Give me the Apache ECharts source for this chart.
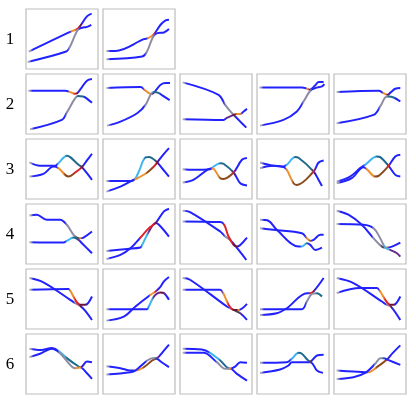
<!DOCTYPE html>
<html>
<head>
    <meta charset="UTF-8">
    <title>curves</title>
    <script src="https://cdn.jsdelivr.net/npm/echarts@6/dist/echarts.min.js"></script>
</head>
<body style="margin:0;background:#fff;">
<div id="main" style="width:416px;height:402px;"></div>
<script type="text/javascript">
    // row labels
    var rowLabels = ['1', '2', '3', '4', '5', '6'];

    // each curve: [x, y, state] ; state letter = colour class of the point
    var row1 = [
        [[[8,127,'g'],[128,70,'b'],[137,66,'o'],[152,60,'r'],[162,50,'d'],[182,22,'b'],[196,14,'b']],
         [[5,158,'g'],[120,127,'b'],[130,115,'s'],[155,62,'s'],[170,55,'b'],[180,54,'b'],[195,47,'b']]],
        [[[10,125,'g'],[37,125,'b'],[122,90,'b'],[135,87,'o'],[152,75,'r'],[172,47,'b'],[187,34,'b'],[197,32,'b']],
         [[10,150,'g'],[117,142,'b'],[130,130,'s'],[150,82,'s'],[162,72,'b'],[182,70,'b'],[197,60,'b']]]
    ];
    var row2 = [
        [[[7,50,'g'],[117,50,'b'],[130,53,'o'],[145,59,'r'],[152,58,'d'],[165,42,'b'],[182,20,'b'],[197,15,'b']],
         [[12,165,'g'],[107,137,'b'],[122,115,'s'],[145,75,'s'],[155,66,'t'],[170,67,'t'],[180,72,'b'],[197,86,'b']]],
        [[[10,42,'g'],[112,39,'b'],[125,48,'o'],[137,57,'o'],[146,60,'d'],[160,46,'b'],[172,32,'b'],[187,27,'b'],[200,27,'b']],
         [[12,154,'g'],[52,142,'b'],[102,117,'b'],[127,92,'s'],[142,62,'s'],[152,54,'t'],[167,57,'t'],[177,64,'b'],[199,78,'b']]],
        [[[8,25,'g'],[115,62,'b'],[135,92,'s'],[155,117,'s'],[162,124,'k'],[180,142,'b'],[198,160,'b']],
         [[8,135,'g'],[130,137,'b'],[140,131,'p'],[160,122,'d'],[170,119,'o'],[180,119,'o'],[190,112,'b'],[200,104,'b']]],
        [[[7,40,'g'],[134,40,'b'],[150,44,'o'],[157,47,'d'],[172,36,'b'],[184,24,'b'],[199,24,'b']],
         [[9,154,'g'],[79,137,'b'],[119,112,'b'],[139,82,'s'],[159,50,'s'],[174,42,'b'],[194,37,'b'],[201,30,'b']]],
        [[[8,54,'g'],[133,50,'b'],[148,57,'o'],[160,62,'d'],[170,54,'b'],[183,44,'b'],[198,42,'b']],
         [[8,147,'g'],[118,122,'b'],[138,97,'s'],[153,70,'s'],[163,67,'t'],[178,70,'t'],[198,82,'b']]]
    ];
    var row3 = [
        [[[10,70,'g'],[42,80,'b'],[87,80,'b'],[97,72,'c'],[122,50,'t'],[132,54,'t'],[157,77,'t'],[167,84,'d'],[182,102,'b'],[197,122,'b']],
         [[10,112,'g'],[52,104,'b'],[82,82,'b'],[97,87,'o'],[117,107,'n'],[127,112,'n'],[147,100,'r'],[167,84,'d'],[182,64,'b'],[197,44,'b']]],
        [[[10,125,'g'],[82,125,'b'],[95,120,'c'],[107,97,'c'],[127,55,'t'],[137,54,'t'],[162,70,'d'],[177,88,'b'],[197,112,'b']],
         [[10,157,'g'],[52,142,'b'],[87,124,'b'],[97,120,'o'],[132,100,'n'],[152,82,'r'],[162,70,'d'],[177,50,'b'],[197,27,'b']]],
        [[[8,90,'g'],[40,92,'b'],[90,90,'b'],[97,85,'c'],[120,72,'t'],[130,74,'t'],[160,100,'d'],[180,132,'b'],[200,139,'b']],
         [[8,130,'g'],[40,122,'b'],[85,90,'b'],[97,88,'o'],[120,117,'n'],[130,119,'n'],[160,100,'r'],[185,62,'b'],[200,57,'b']]],
        [[[9,70,'g'],[49,80,'b'],[79,82,'b'],[89,77,'c'],[114,54,'t'],[124,56,'t'],[169,97,'d'],[184,122,'b'],[194,140,'b']],
         [[9,87,'g'],[49,80,'b'],[79,84,'b'],[89,92,'o'],[109,132,'n'],[119,137,'n'],[169,97,'r'],[184,70,'b'],[199,64,'b']]],
        [[[8,127,'g'],[48,112,'b'],[78,87,'b'],[93,77,'c'],[128,52,'t'],[138,54,'t'],[163,80,'d'],[183,107,'b'],[198,112,'b']],
         [[8,132,'g'],[53,117,'b'],[88,84,'b'],[98,90,'o'],[123,112,'n'],[133,110,'n'],[163,80,'r'],[183,52,'b'],[198,47,'b']]]
    ];
    var row4 = [
        [[[10,34,'g'],[32,32,'b'],[62,47,'b'],[102,47,'b'],[122,62,'s'],[142,92,'s'],[152,100,'k'],[162,102,'o'],[172,100,'b'],[197,82,'b']],
         [[10,114,'g'],[112,115,'b'],[122,110,'c'],[142,100,'t'],[157,107,'p'],[167,117,'b'],[197,147,'b']]],
        [[[10,140,'g'],[72,134,'b'],[112,130,'b'],[117,122,'c'],[137,82,'p'],[157,57,'d'],[167,62,'b'],[197,97,'b']],
         [[10,164,'g'],[52,152,'b'],[82,132,'b'],[112,100,'r'],[137,72,'r'],[157,57,'d'],[182,22,'b'],[197,14,'b']]],
        [[[8,20,'g'],[30,24,'b'],[120,82,'b'],[135,97,'s'],[150,107,'d'],[175,137,'b'],[198,167,'b']],
         [[8,52,'g'],[120,54,'b'],[132,62,'r'],[145,97,'r'],[160,122,'d'],[170,127,'d'],[180,122,'b'],[200,100,'b']]],
        [[[9,47,'g'],[34,50,'b'],[59,77,'b'],[124,127,'b'],[134,127,'c'],[149,117,'t'],[159,122,'b'],[174,137,'b'],[194,130,'b']],
         [[9,72,'g'],[49,77,'b'],[134,87,'b'],[149,102,'o'],[159,110,'n'],[169,107,'b'],[189,92,'b'],[199,92,'b']]],
        [[[8,20,'g'],[43,32,'b'],[83,62,'b'],[118,102,'s'],[143,127,'k'],[158,130,'o'],[173,127,'b'],[198,115,'b']],
         [[8,60,'g'],[88,62,'b'],[118,72,'s'],[138,102,'s'],[153,130,'c'],[168,137,'p'],[188,147,'p'],[198,157,'p']]]
    ];
    var row5 = [
        [[[10,27,'g'],[52,40,'b'],[132,92,'b'],[147,102,'s'],[162,110,'d'],[177,125,'b'],[197,152,'b']],
         [[10,62,'g'],[127,60,'b'],[132,64,'o'],[147,92,'r'],[162,107,'d'],[177,107,'d'],[197,82,'b']]],
        [[[10,120,'g'],[132,120,'b'],[137,112,'c'],[152,82,'p'],[172,70,'d'],[182,72,'p'],[197,92,'b']],
         [[10,154,'g'],[62,142,'b'],[97,112,'b'],[142,77,'o'],[157,67,'r'],[170,55,'b'],[182,37,'b'],[197,24,'b']]],
        [[[8,27,'g'],[30,32,'b'],[140,112,'b'],[150,117,'s'],[160,122,'k'],[180,132,'p'],[200,152,'b']],
         [[8,62,'g'],[120,62,'b'],[130,74,'o'],[145,107,'r'],[160,122,'d'],[175,122,'o'],[200,104,'b']]],
        [[[9,137,'g'],[59,132,'b'],[89,117,'b'],[149,72,'b'],[159,72,'r'],[169,67,'d'],[199,27,'b']],
         [[9,120,'g'],[134,120,'b'],[149,97,'s'],[164,74,'s'],[179,72,'t'],[194,82,'t']]],
        [[[8,27,'g'],[58,42,'b'],[143,97,'b'],[158,107,'s'],[170,112,'d'],[198,152,'b']],
         [[8,72,'g'],[78,57,'b'],[128,57,'b'],[138,67,'o'],[153,92,'r'],[168,107,'d'],[178,107,'d'],[198,82,'b']]]
    ];
    var row6 = [
        [[[10,44,'g'],[45,48,'b'],[77,42,'b'],[97,50,'c'],[122,72,'t'],[157,97,'t'],[164,99,'d'],[182,82,'b'],[197,84,'b']],
         [[10,69,'g'],[42,59,'b'],[77,44,'b'],[100,56,'s'],[140,100,'s'],[150,102,'o'],[162,100,'o'],[182,117,'b'],[197,134,'b']]],
        [[[10,96,'g'],[52,102,'b'],[82,109,'b'],[97,109,'o'],[122,99,'n'],[147,79,'n'],[162,72,'r'],[180,52,'b'],[197,32,'b']],
         [[10,121,'g'],[82,114,'b'],[97,109,'b'],[132,79,'s'],[147,72,'s'],[157,72,'t'],[172,82,'b'],[197,99,'b']]],
        [[[8,44,'g'],[65,46,'b'],[90,56,'c'],[120,79,'t'],[150,104,'d'],[165,97,'b'],[180,84,'b'],[200,86,'b']],
         [[8,56,'g'],[70,56,'b'],[110,84,'s'],[135,104,'s'],[150,104,'o'],[170,119,'b'],[200,139,'b']]],
        [[[9,86,'g'],[89,84,'b'],[104,74,'c'],[124,56,'t'],[134,59,'t'],[159,82,'d'],[179,64,'b'],[199,62,'b']],
         [[9,116,'g'],[69,106,'b'],[94,94,'b'],[104,84,'b'],[159,84,'k'],[179,109,'b'],[197,116,'b']]],
        [[[8,109,'g'],[58,112,'b'],[93,114,'b'],[103,114,'o'],[128,99,'n'],[158,76,'r'],[175,57,'b'],[198,34,'b']],
         [[8,134,'g'],[58,129,'b'],[93,116,'b'],[123,89,'s'],[138,72,'s'],[148,72,'t'],[163,78,'b'],[198,92,'b']]]
    ];
    var rows = [row1, row2, row3, row4, row5, row6];

    // colour for each state letter
    var palette = {
        g: '#a8a8b8', b: '#2222ff', o: '#f0902c', r: '#e0222a', d: '#6e1232',
        t: '#1e6a8c', c: '#3cb6f2', n: '#8a4a1e', p: '#6a2a8c', k: '#4a4a5a', s: '#8c8ca4'
    };

    var colLeft = [26, 103, 180, 257, 334];
    var rowTop = [9, 74, 139, 204, 269, 334];

    // horizontal gradient following the states along the curve (global pixel coords)
    function curveColor(pts, px0, pxn) {
        var x0 = pts[0][0], xn = pts[pts.length - 1][0];
        function off(x) { return Math.min(1, Math.max(0, (x - x0) / (xn - x0))); }
        var stops = [{offset: 0, color: palette[pts[0][2]]}];
        stops.push({offset: off(x0 + 4), color: palette[pts[0][2]]});
        stops.push({offset: off(x0 + 12), color: palette[pts[1][2]]});
        for (var i = 2; i < pts.length; i++) {
            var prev = pts[i - 1], cur = pts[i];
            if (cur[2] != prev[2]) {
                if (cur[2] == 'b') {
                    // leaving a coloured stretch: back to blue just after it
                    stops.push({offset: off(prev[0]), color: palette[prev[2]]});
                    stops.push({offset: off(Math.min(cur[0], prev[0] + 6)), color: palette.b});
                } else {
                    stops.push({offset: off(Math.max(prev[0], cur[0] - 6)), color: palette[prev[2]]});
                }
            }
            stops.push({offset: off(cur[0]), color: palette[cur[2]]});
        }
        return {type: 'linear', x: px0, y: 0, x2: pxn, y2: 0, global: true, colorStops: stops};
    }

    var grids = [], xAxes = [], yAxes = [], series = [], graphics = [], curves = [];
    rows.forEach(function (row, r) {
        graphics.push({
            type: 'text', x: 10, y: rowTop[r] + 31,
            style: {text: rowLabels[r], font: '17px "Liberation Serif"', fill: '#000',
                textAlign: 'center', textVerticalAlign: 'middle'}
        });
        row.forEach(function (panel, c) {
            var gi = grids.length;
            grids.push({
                left: colLeft[c], top: rowTop[r], width: 72, height: 60,
                show: true, borderColor: '#bdbdbd', borderWidth: 1.2, backgroundColor: '#fff'
            });
            xAxes.push({gridIndex: gi, type: 'value', min: 0, max: 215, show: false});
            yAxes.push({gridIndex: gi, type: 'value', min: 0, max: 179, inverse: true, show: false});
            panel.forEach(function (pts) {
                curves.push({gi: gi, pts: pts});
                series.push({
                    type: 'line', xAxisIndex: gi, yAxisIndex: gi,
                    data: pts.map(function (p) { return [p[0], p[1]]; }),
                    showSymbol: false, smooth: 0.35, silent: true,
                    lineStyle: {width: 2, color: palette.b}
                });
            });
        });
    });

    var myChart = echarts.init(document.getElementById('main'));
    myChart.setOption({
        animation: false,
        grid: grids,
        xAxis: xAxes,
        yAxis: yAxes,
        series: series,
        graphic: graphics
    });

    // second pass: colour each curve by its states
    var recolor = curves.map(function (cv) {
        var a = myChart.convertToPixel({gridIndex: cv.gi}, [cv.pts[0][0], 0]);
        var b = myChart.convertToPixel({gridIndex: cv.gi}, [cv.pts[cv.pts.length - 1][0], 0]);
        return {lineStyle: {color: curveColor(cv.pts, a[0], b[0])}};
    });
    myChart.setOption({series: recolor});
</script>
</body>
</html>
